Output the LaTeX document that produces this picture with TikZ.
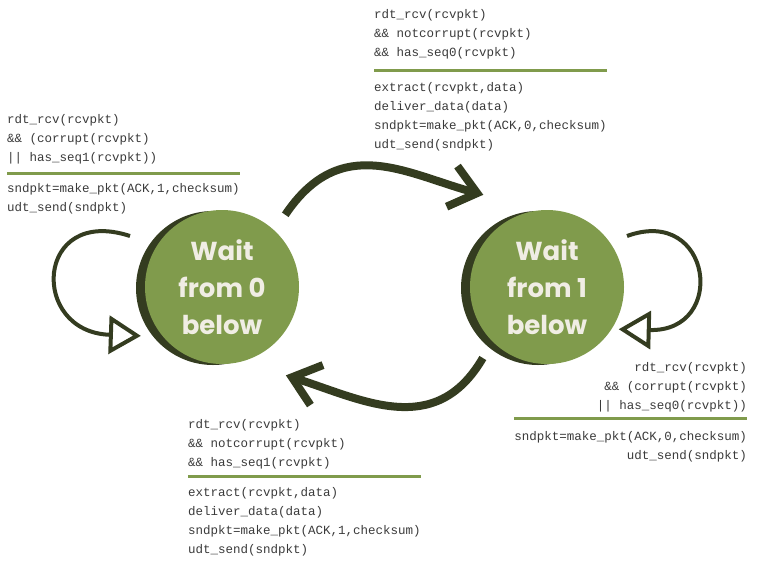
\documentclass[tikz,border=0pt]{standalone}
\usepackage{fontspec}
\usepackage{tikz}
\usetikzlibrary{arrows.meta}
\usetikzlibrary{shadows}
\usepackage{xcolor}
\newfontfamily\codefont{Liberation Mono}
\newfontfamily\statefont{Poppins}
\definecolor{ColA}{RGB}{128,155,76}
\definecolor{ColB}{RGB}{52,60,32}
\definecolor{ColC}{RGB}{240,237,228}
\definecolor{ColD}{RGB}{58,58,58}
\tikzstyle{StateNode}=[circle,fill=ColA,minimum size=154pt,inner sep=0pt,
text=ColC,font=\statefont\bfseries\fontsize{26pt}{37pt}\selectfont,align=center,
general shadow={fill=ColB,shadow xshift=-9pt,shadow yshift=-1pt}]
\tikzstyle{BigArrow}=[ColB,line width=8pt,-{Straight Barb[length=26pt,width=42pt]}]
\tikzstyle{LoopArrow}=[ColB,line width=4pt,-{Triangle[open,length=32pt,width=38pt]}]
\tikzstyle{CodeText}=[inner sep=0pt,text=ColD,font=\codefont\fontsize{12.5pt}{19pt}\selectfont]
\tikzstyle{RuleLine}=[ColA,line width=3pt]

\begin{document}
\begin{tikzpicture}[x=1pt,y=-1pt]
        \useasboundingbox(0,0)rectangle(771,574);
        \node[StateNode](w0)at(222,287){Wait\\from 0\\below};
        \node[StateNode](w1)at(547,287){Wait\\from 1\\below};
        % transition labels (base = last line)
        \node[CodeText,anchor=base west,align=left](g00)at(7,161){rdt\_rcv(rcvpkt)\\\&\& (corrupt(rcvpkt)\\|| has\_seq1(rcvpkt))};
        \node[CodeText,anchor=base west,align=left](a00)at(7,211){sndpkt=make\_pkt(ACK,1,checksum)\\udt\_send(sndpkt)};
        \node[CodeText,anchor=base west,align=left](g01)at(374,56){rdt\_rcv(rcvpkt)\\\&\& notcorrupt(rcvpkt)\\\&\& has\_seq0(rcvpkt)};
        \node[CodeText,anchor=base west,align=left](a01)at(374,148){extract(rcvpkt,data)\\deliver\_data(data)\\sndpkt=make\_pkt(ACK,0,checksum)\\udt\_send(sndpkt)};
        \node[CodeText,anchor=base west,align=left](g10)at(188,466){rdt\_rcv(rcvpkt)\\\&\& notcorrupt(rcvpkt)\\\&\& has\_seq1(rcvpkt)};
        \node[CodeText,anchor=base west,align=left](a10)at(188,553){extract(rcvpkt,data)\\deliver\_data(data)\\sndpkt=make\_pkt(ACK,1,checksum)\\udt\_send(sndpkt)};
        \node[CodeText,anchor=base east,align=right](g11)at(747,409){rdt\_rcv(rcvpkt)\\\&\& (corrupt(rcvpkt)\\|| has\_seq0(rcvpkt))};
        \node[CodeText,anchor=base east,align=right](a11)at(747,459){sndpkt=make\_pkt(ACK,0,checksum)\\udt\_send(sndpkt)};
        \draw[RuleLine]([yshift=9.5pt]a00.north west)--([yshift=9.5pt]a00.north east);
        \draw[RuleLine]([yshift=11.5pt]a01.north west)--([yshift=11.5pt]a01.north east);
        \draw[RuleLine]([yshift=10.5pt]a10.north west)--([yshift=10.5pt]a10.north east);
        \draw[RuleLine]([yshift=12.5pt]a11.north west)--([yshift=12.5pt]a11.north east);
        % transitions
        \coordinate(s0)at(130,236);
        \coordinate(s1)at(627,236);
        \draw[LoopArrow,shorten >=22pt](s0)..controls(35,205)and(29,332)..(w0.220);
        \draw[LoopArrow,shorten >=7pt](s1)..controls(712,205)and(728,332)..(w1.327);
        \draw[BigArrow,shorten <=19pt,shorten >=59pt](w0.47)..controls(341,132)and(406,174)..(w1.95);
        \draw[BigArrow,shorten <=19pt,shorten >=46pt](w1.225)..controls(435,440)and(361,399)..(w0.285);
    \end{tikzpicture}
\end{document}
